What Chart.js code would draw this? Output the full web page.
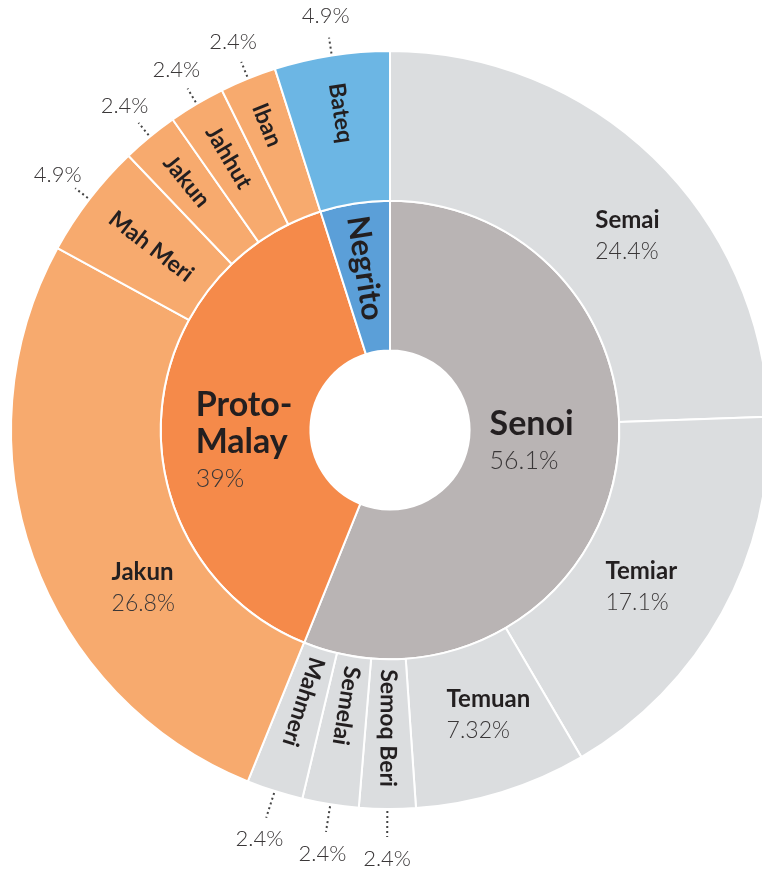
<!DOCTYPE html>
<html>
<head>
<meta charset="utf-8">
<script src="https://cdn.jsdelivr.net/npm/chart.js@4"></script>
<style>
  html, body { margin: 0; padding: 0; overflow: hidden; background: #fff; }
  canvas { position: absolute; left: 0; top: 0; }
</style>
</head>
<body>
<canvas id="sunburst" width="780" height="874"></canvas>
<script>
// inner ring: main groups
var groupLabels = ["Senoi", "Proto-Malay", "Negrito"];
var groupValues = [56.1, 39, 4.9];
var groupColors = ["#b9b4b4", "#f58a4a", "#5b9fd8"];

// outer ring: sub groups (same order, clockwise from top)
var subLabels = ["Semai", "Temiar", "Temuan", "Semoq Beri", "Semelai", "Mahmeri",
                 "Jakun", "Mah Meri", "Jakun", "Jahhut", "Iban", "Bateq"];
var subValues = [24.4, 17.1, 7.32, 2.4, 2.4, 2.4, 26.8, 4.9, 2.4, 2.4, 2.4, 4.9];
var subGroup  = [0, 0, 0, 0, 0, 0, 1, 1, 1, 1, 1, 2];
var subColors = ["#dbdddf", "#f7aa6e", "#6cb6e4"];

var inkDark = "#231f20";
var inkPct = "#3a3738";

// horizontal text blocks: left x / first line y relative to slice centroid
var blockPos = {
  outer: { 0: {dx: -6, dy: 9}, 1: {dx: -51, dy: -5}, 2: {dx: -33, dy: -21}, 6: {dx: 8, dy: 40} },
  inner: { 0: {dx: -52, dy: -35}, 1: {dx: -40, dy: -19} }
};
var ringFont = {
  outer: {name: "bold 24px Lato", pct: "300 23px Lato", gap: 31, rot: "bold 23px Lato"},
  inner: {name: "bold 34px Lato", pct: "300 25px Lato", gap: 37, rot: "bold 31px Lato"}
};

var sliceLabels = {
  id: "sliceLabels",
  afterDatasetsDraw: function(chart) {
    var ctx = chart.ctx;
    chart.data.datasets.forEach(function(ds, di) {
      var meta = chart.getDatasetMeta(di);
      var ring = di === 0 ? "outer" : "inner";
      var f = ringFont[ring];
      meta.data.forEach(function(arc, j) {
        var p = arc.getProps(["x", "y", "startAngle", "endAngle", "innerRadius", "outerRadius"], true);
        var a = (p.startAngle + p.endAngle) / 2;
        var ca = Math.cos(a), sa = Math.sin(a);
        var name = ds.labels[j];
        var pct = ds.data[j] + "%";
        var b = blockPos[ring][j];
        ctx.save();
        if (b) {
          var rm = (p.innerRadius + p.outerRadius) / 2;
          var lx = p.x + ca * rm + b.dx;
          var ly = p.y + sa * rm + b.dy;
          var lines = name.replace("-", "-\n").split("\n");
          ctx.textAlign = "left";
          ctx.textBaseline = "middle";
          ctx.fillStyle = inkDark;
          ctx.font = f.name;
          lines.forEach(function(t, k) { ctx.fillText(t, lx, ly + k * f.gap); });
          ctx.fillStyle = inkPct;
          ctx.font = f.pct;
          ctx.fillText(pct, lx, ly + lines.length * f.gap);
        } else {
          var bottom = sa > 0;
          var r0;
          if (ring === "inner") r0 = p.outerRadius - 13;
          else r0 = bottom ? p.innerRadius + 10 : p.outerRadius - 28;
          ctx.translate(p.x + ca * r0, p.y + sa * r0);
          ctx.rotate(bottom ? a : a + Math.PI);
          ctx.textAlign = "left";
          ctx.textBaseline = "middle";
          ctx.fillStyle = inkDark;
          ctx.font = f.rot;
          ctx.fillText(name, 0, 0);
          ctx.restore();
          ctx.save();
          if (ring === "outer") {
            var R = p.outerRadius;
            var r1 = R + 2, r2 = R + (bottom ? 28 : 18), r3 = R + (bottom ? 50 : 40);
            ctx.strokeStyle = "#444";
            ctx.lineWidth = 2;
            ctx.setLineDash([2, 3]);
            ctx.beginPath();
            ctx.moveTo(p.x + ca * r1, p.y + sa * r1);
            ctx.lineTo(p.x + ca * r2, p.y + sa * r2);
            ctx.stroke();
            ctx.setLineDash([]);
            ctx.fillStyle = inkPct;
            ctx.font = "300 22px Lato";
            ctx.textAlign = "center";
            ctx.textBaseline = "middle";
            ctx.fillText(pct, p.x + ca * r3, p.y + sa * r3);
          }
        }
        ctx.restore();
      });
    });
  }
};

var ctx = document.getElementById("sunburst").getContext("2d");
var chart = new Chart(ctx, {
  type: "doughnut",
  data: {
    datasets: [
      {
        labels: subLabels,
        data: subValues,
        backgroundColor: subGroup.map(function(g) { return subColors[g]; }),
        borderColor: "#fff",
        borderWidth: 2
      },
      {
        labels: groupLabels,
        data: groupValues,
        backgroundColor: groupColors,
        borderColor: "#fff",
        borderWidth: 2
      }
    ]
  },
  options: {
    responsive: false,
    animation: false,
    cutout: "21%",
    layout: { padding: { top: 50, bottom: 64, left: 10, right: 10 } },
    plugins: { legend: { display: false }, tooltip: { enabled: false } }
  },
  plugins: [sliceLabels]
});
</script>
</body>
</html>
